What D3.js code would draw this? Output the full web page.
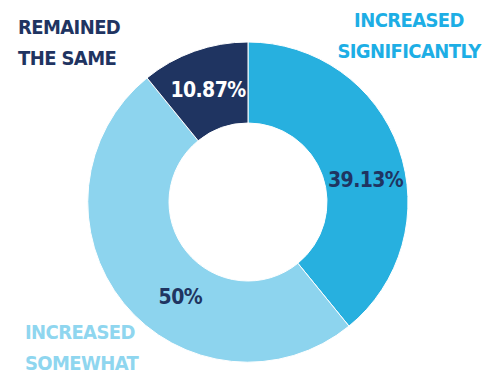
<!DOCTYPE html>
<html>
<head>
<meta charset="utf-8">
<script src="https://cdn.jsdelivr.net/npm/d3@7"></script>
<style>
  html, body { margin: 0; padding: 0; background: #fff; }
  svg { display: block; font-family: "DejaVu Sans Condensed", Roboto, sans-serif; font-weight: bold; }
</style>
</head>
<body>
<svg id="chart"></svg>
<script>
const categories = ["Increased significantly", "Increased somewhat", "Remained the same"];
const values = [39.13, 50, 10.87];
const valueLabels = ["39.13%", "50%", "10.87%"];

const width = 499;
const height = 375;
const cx = 248;
const cy = 202;
const outerRadius = 160;
const innerRadius = 79;

const sliceColors = ["#27b0df", "#8dd4ee", "#1f3461"];
const valueColors = ["#1f3461", "#1f3461", "#ffffff"];
// nudges from the arc centroid for each value label
const labelNudge = [[5, 18], [25, 19], [0, 0]];

const data = categories.map((c, i) => ({ category: c, value: values[i], label: valueLabels[i], i }));

const svg = d3.select("#chart").attr("width", width).attr("height", height);

const pie = d3.pie().sort(null).value((d) => d.value);
const arc = d3.arc().innerRadius(innerRadius).outerRadius(outerRadius);

const g = svg.append("g").attr("transform", `translate(${cx}, ${cy})`);

const arcs = pie(data);

g.selectAll("path")
  .data(arcs)
  .enter()
  .append("path")
  .attr("d", arc)
  .attr("fill", (d) => sliceColors[d.data.i])
  .attr("stroke", "#ffffff")
  .attr("stroke-width", 1);

g.selectAll(".value")
  .data(arcs)
  .enter()
  .append("text")
  .attr("class", "value")
  .attr("x", (d) => arc.centroid(d)[0] + labelNudge[d.data.i][0])
  .attr("y", (d) => arc.centroid(d)[1] + labelNudge[d.data.i][1])
  .attr("dy", "0.35em")
  .attr("text-anchor", "middle")
  .attr("font-size", 21)
  .attr("letter-spacing", -0.6)
  .attr("fill", (d) => valueColors[d.data.i])
  .text((d) => d.data.label);

// category captions
const captions = [
  { lines: ["INCREASED", "SIGNIFICANTLY"], x: 409, y: 20, anchor: "middle", color: "#1daee5" },
  { lines: ["INCREASED", "SOMEWHAT"], x: 25, y: 332, anchor: "start", color: "#8fd6ef" },
  { lines: ["REMAINED", "THE SAME"], x: 18, y: 27, anchor: "start", color: "#1f3461" }
];

captions.forEach((c) => {
  const t = svg.append("text")
    .attr("x", c.x)
    .attr("y", c.y)
    .attr("text-anchor", c.anchor)
    .attr("font-size", 20)
    .attr("letter-spacing", -0.6)
    .attr("fill", c.color);
  c.lines.forEach((line, k) => {
    t.append("tspan")
      .attr("x", c.x)
      .attr("dy", k === 0 ? "0.35em" : 31)
      .text(line);
  });
});
</script>
</body>
</html>
